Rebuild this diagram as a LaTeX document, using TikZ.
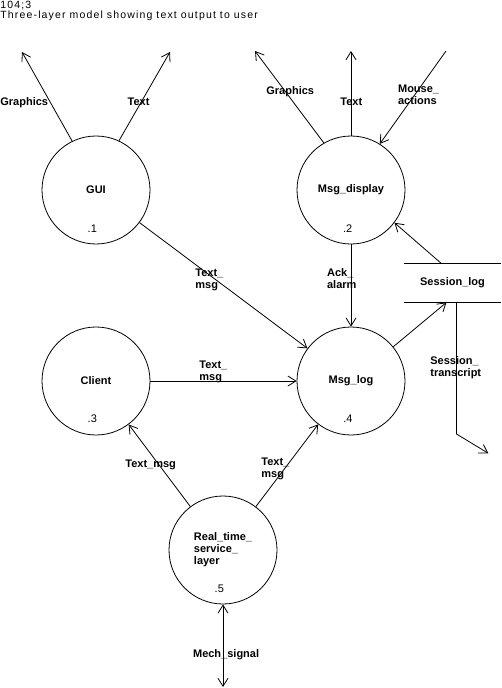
\documentclass[tikz,border=0pt]{standalone}
\usepackage{fontspec}
\setmainfont{Liberation Sans}
\newfontfamily\titlefont[LetterSpace=11]{Liberation Sans}
\usetikzlibrary{arrows.meta}
\begin{document}
\begin{tikzpicture}[x=1pt,y=-1pt,
  line width=0.8pt,
  proc/.style={circle,draw,minimum size=108pt,inner sep=0pt,align=left,
    font=\fontsize{11}{12}\selectfont\bfseries},
  lbl/.style={font=\fontsize{11}{12}\selectfont\bfseries,inner sep=0pt,align=left},
  num/.style={font=\fontsize{11}{12}\selectfont,inner sep=0pt,anchor=base west},
  hdr/.style={font=\titlefont\fontsize{10.5}{12}\selectfont,inner sep=0pt,anchor=base west},
  arr/.style={-{Straight Barb[length=8pt,width=10pt]}},
  dblarr/.style={{Straight Barb[length=8pt,width=10pt]}-{Straight Barb[length=8pt,width=10pt]}}
]
\useasboundingbox (0,0) rectangle (501,688);

% title
\node[hdr] (hdr1) at (0,8.6) {104;3};
\node[hdr] (hdr2) at (0,18.4) {Three-layer model showing text output to user};

% processes
\node[proc] (gui) at (96,190) {GUI};
\node[proc] (msgd) at (351,190) {Msg\_display};
\node[proc] (client) at (96,381) {Client};
\node[proc] (msglog) at (351,381) {Msg\_log};
\node[proc] (rtsl) at (223,550) {Real\_time\_\\service\_\\layer};

\node[num] (n1) at (87.3,232) {.1};
\node[num] (n2) at (342.7,232) {.2};
\node[num] (n3) at (87.3,422) {.3};
\node[num] (n4) at (343,422) {.4};
\node[num] (n5) at (214.3,592.7) {.5};

% data store
\node[lbl,minimum width=97pt,minimum height=38pt] (slog) at (452.5,283) {Session\_log};
\draw (slog.north west) -- (slog.north east);
\draw (slog.south west) -- (slog.south east);

% free ends
\coordinate (g1) at (22,52);
\coordinate (t1) at (170,52);
\coordinate (g2) at (255,51);
\coordinate (t2) at (351,51);
\coordinate (m2) at (446,51);
\coordinate (st1) at (456.5,434);
\coordinate (st2) at (488.3,453.3);
\coordinate (ms) at (223,687);

% connectors
\draw[arr] (gui.116) -- (g1);
\draw[arr] (gui.65) -- (t1);
\draw[arr] (msgd.120) -- (g2);
\draw[arr] (msgd.north) -- (msgd.north |- t2);
\draw[arr] (m2) -- (msgd.58);
\draw[arr] ([xshift=-11pt]slog.north) -- (msgd.-37);
\draw[arr] (gui) -- (msglog);
\draw[arr] (msgd) -- (msglog);
\draw[arr] (client) -- (msglog);
\draw[arr] (msglog.39) -- ([xshift=-6pt]slog.south);
\draw[arr] ([xshift=4pt]slog.south) -- (st1) -- (st2);
\draw[arr] (rtsl) -- (client);
\draw[arr] (rtsl) -- (msglog);
\draw[dblarr] (rtsl.south) -- (rtsl.south |- ms);

% labels
\node[lbl,anchor=base west] (lg1) at (0,105) {Graphics};
\node[lbl,anchor=base west] (lt1) at (127.3,105) {Text};
\node[lbl,anchor=base west] (lg2) at (266,94.3) {Graphics};
\node[lbl,anchor=base west] (lt2) at (340,105) {Text};
\node[lbl,anchor=west] (lm2) at (397.7,95) {Mouse\_\\actions};
\node[lbl,anchor=west] (l3) at (195,280) {Text\_\\msg};
\node[lbl,anchor=west] (l4) at (326.7,279) {Ack\_\\alarm};
\node[lbl,anchor=west] (l5) at (199,372) {Text\_\\msg};
\node[lbl,anchor=west] (l6) at (430,368) {Session\_\\transcript};
\node[lbl,anchor=base west] (l7) at (125,467.7) {Text\_msg};
\node[lbl,anchor=west] (l8) at (261,469) {Text\_\\msg};
\node[lbl,anchor=base west] (l9) at (192.7,657.3) {Mech\_signal};
\end{tikzpicture}
\end{document}
